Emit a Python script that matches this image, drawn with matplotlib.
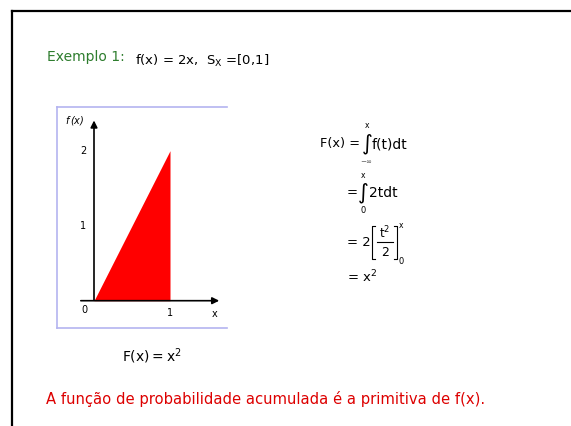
import matplotlib.pyplot as plt
from matplotlib.lines import Line2D

# 数据
x_vals = [0, 1]
f_vals = [0, 2]
xtick_labels = ['0', '1']
ytick_vals = [1, 2]
ytick_labels = ['1', '2']

W, H = 571, 426
fig = plt.figure(figsize=(W / 100, H / 100), dpi=100)


def px(x, y):
    # 像素坐标 -> 图窗坐标
    return x / W, 1 - y / H


def txt(x, y, s, size=10, **kw):
    fx, fy = px(x, y)
    fig.text(fx, fy, s, fontsize=size, va='center', **kw)


def pline(xs, ys, lw=0.8, color='black'):
    # 以像素坐标画线
    fig.add_artist(Line2D([v / W for v in xs], [1 - v / H for v in ys], color=color, lw=lw))


# 幻灯片外框
pline([12, W], [11, 11], lw=1.6)
pline([12, 12], [11, H], lw=1.6)

# 标题
txt(47, 57, 'Exemplo 1:', size=10, color='#2e7d2e')
txt(135, 61, r'f(x) = 2x,  S$_{\mathrm{X}}$ =[0,1]', size=9.5)

# 图形区域 (57..227, 107..328)
l, r, t, b = 57, 227, 107, 328
ax = fig.add_axes([l / W, 1 - b / H, (r - l) / W, (b - t) / H])
ax.set_xlim((l - 94) / 76, (r - 94) / 76)
ax.set_ylim((300.7 - b) / 75, (300.7 - t) / 75)
for s in ['left', 'top', 'bottom']:
    ax.spines[s].set_color('#b4b4f0')
    ax.spines[s].set_linewidth(1.2)
ax.spines['right'].set_visible(False)
ax.set_xticks([])
ax.set_yticks([])

ax.fill_between(x_vals, 0, f_vals, color='red', lw=0)
ax.annotate('', xy=(1.684, 0), xytext=(-0.21, 0),
            arrowprops=dict(arrowstyle='-|>', color='black', lw=1.2, mutation_scale=10))
ax.annotate('', xy=(0, 2.44), xytext=(0, -0.03),
            arrowprops=dict(arrowstyle='-|>', color='black', lw=1.2, mutation_scale=10))

for v, s in zip(ytick_vals, ytick_labels):
    ax.text(-0.145, v, s, fontsize=7, ha='center', va='center')
ax.text(-0.12, -0.13, xtick_labels[0], fontsize=7, ha='center', va='center')
ax.text(x_vals[1], -0.17, xtick_labels[1], fontsize=7, ha='center', va='center')
ax.text(1.59, -0.18, 'x', fontsize=7, ha='center', va='center')
ax.text(-0.26, 2.4, r'$f\,$(x)', fontsize=7, ha='center', va='center', style='italic')

# 积分推导
txt(320, 144, 'F(x) =', size=9.3)
txt(367, 144, '\u222b', size=15, ha='center')
txt(367, 126, 'x', size=5.5, ha='center')
txt(366, 162, r'$-\infty$', size=5, ha='center', color='#555555')
txt(372, 144, 'f(t)dt', size=10)

txt(347, 193, '=', size=9.5)
txt(363, 193, '\u222b', size=15, ha='center')
txt(363, 176, 'x', size=5.5, ha='center')
txt(363, 211, '0', size=6, ha='center')
txt(369, 193, '2tdt', size=10)

txt(347, 243, '= 2', size=9.5)
# 方括号
pline([375, 372, 372, 375], [226, 226, 259, 259])
pline([394, 397, 397, 394], [226, 226, 259, 259])
txt(385, 233, r't$^2$', size=8.5, ha='center')
pline([377, 393], [242, 242])
txt(385, 252, '2', size=9, ha='center')
txt(401, 226, 'x', size=5.5, ha='center')
txt(401, 261, '0', size=6, ha='center')

txt(347, 277, r'= x$^2$', size=9.5)

# 底部文字
txt(122, 356, r'F(x)$=$x$^2$', size=10)
txt(46, 399, 'A função de probabilidade acumulada é a primitiva de f(x).', size=10.6, color='#dd0000')

fig.savefig('out.png', dpi=100)
